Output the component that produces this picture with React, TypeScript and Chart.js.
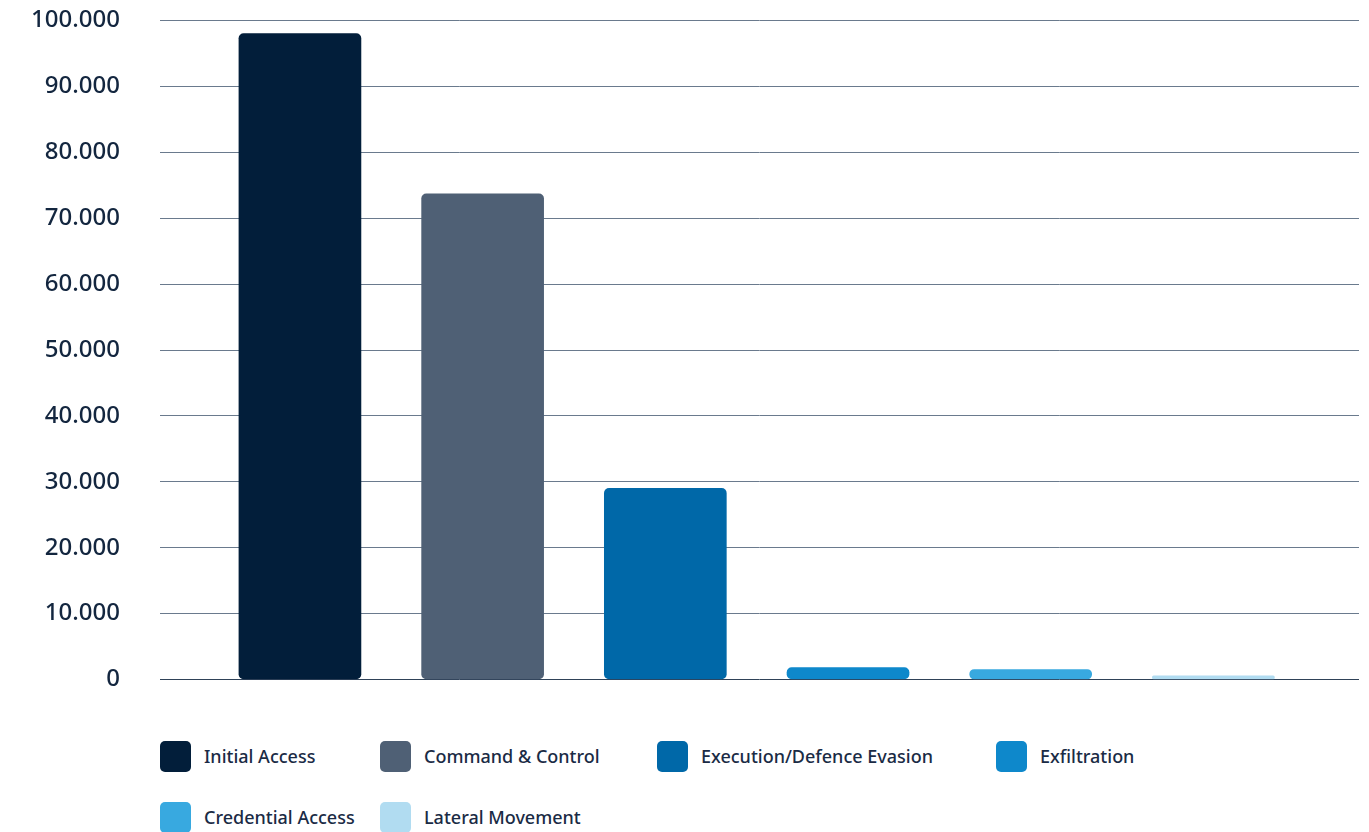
import React, { useEffect, useRef } from "react";
import { Chart, registerables } from "chart.js";

Chart.register(...registerables);

const categories = [
  "Initial Access",
  "Command & Control",
  "Execution/Defence Evasion",
  "Exfiltration",
  "Credential Access",
  "Lateral Movement",
];
const values = [98000, 73700, 29000, 1820, 1520, 560];
const colors = ["#021e3a", "#4f6075", "#0068a8", "#0e88cb", "#38a9e0", "#b1dcf1"];
const yMin = 0;
const yMax = 100000;
const yStep = 10000;

const formatDe = (v: number) =>
  String(Math.round(v)).replace(/\B(?=(\d{3})+(?!\d))/g, ".");

export default function App() {
  const canvasRef = useRef<HTMLCanvasElement | null>(null);

  useEffect(() => {
    if (!canvasRef.current) return;
    const chart = new Chart(canvasRef.current, {
      type: "bar",
      data: {
        datasets: [
          {
            label: "Attacks",
            data: values.map((v, i) => ({ x: i + 1, y: v })),
            backgroundColor: colors,
            borderRadius: 5,
            borderSkipped: false,
            barThickness: 122,
          },
        ],
      },
      options: {
        animation: false,
        responsive: true,
        maintainAspectRatio: false,
        layout: { padding: { left: 20, right: 10, top: 20.5, bottom: 20.5 } },
        plugins: { legend: { display: false }, tooltip: { enabled: false } },
        scales: {
          x: { type: "linear", min: 0.234, max: 6.797, display: false, offset: false, grid: { offset: false } },
          y: {
            min: yMin,
            max: yMax,
            ticks: {
              stepSize: yStep,
              callback: (v: any) => formatDe(Number(v)),
              color: "#13263f",
              font: { family: "'Noto Sans', sans-serif", size: 24, weight: "500" },
              padding: 0,
            },
            grid: {
              drawTicks: true,
              tickLength: 40,
              tickColor: "rgba(0,0,0,0)",
              color: (ctx: any) => (ctx.tick && ctx.tick.value === 0 ? "#2f4258" : "#6a7a8d"),
              lineWidth: 1,
            },
            border: { display: false },
            afterFit: (s: any) => {
              s.width = 140;
            },
          },
        },
      },
    } as any);
    return () => chart.destroy();
  }, []);

  return (
    <div
      style={{
        position: "fixed",
        left: 0,
        top: 0,
        width: "100vw",
        height: "100vh",
        overflow: "hidden",
        background: "#ffffff",
      }}
    >
      <div style={{ position: "absolute", left: 0, top: 0, width: 1369, height: 700 }}>
        <canvas ref={canvasRef} />
      </div>
      <div
        style={{
          position: "absolute",
          left: 160,
          top: 725.5,
          display: "grid",
          gridTemplateColumns: "220px 277px 339px auto",
          gridAutoRows: "61px",
          fontFamily: "'Noto Sans', sans-serif",
          fontSize: 18,
          fontWeight: 500,
          color: "#1a2b45",
        }}
      >
        {categories.map((c, i) => (
          <div key={c} style={{ display: "flex", alignItems: "center", whiteSpace: "nowrap" }}>
            <span
              style={{
                display: "inline-block",
                width: 31,
                height: 31,
                borderRadius: 5,
                background: colors[i],
                marginRight: 13,
                flex: "none",
              }}
            />
            <span>{c}</span>
          </div>
        ))}
      </div>
    </div>
  );
}
